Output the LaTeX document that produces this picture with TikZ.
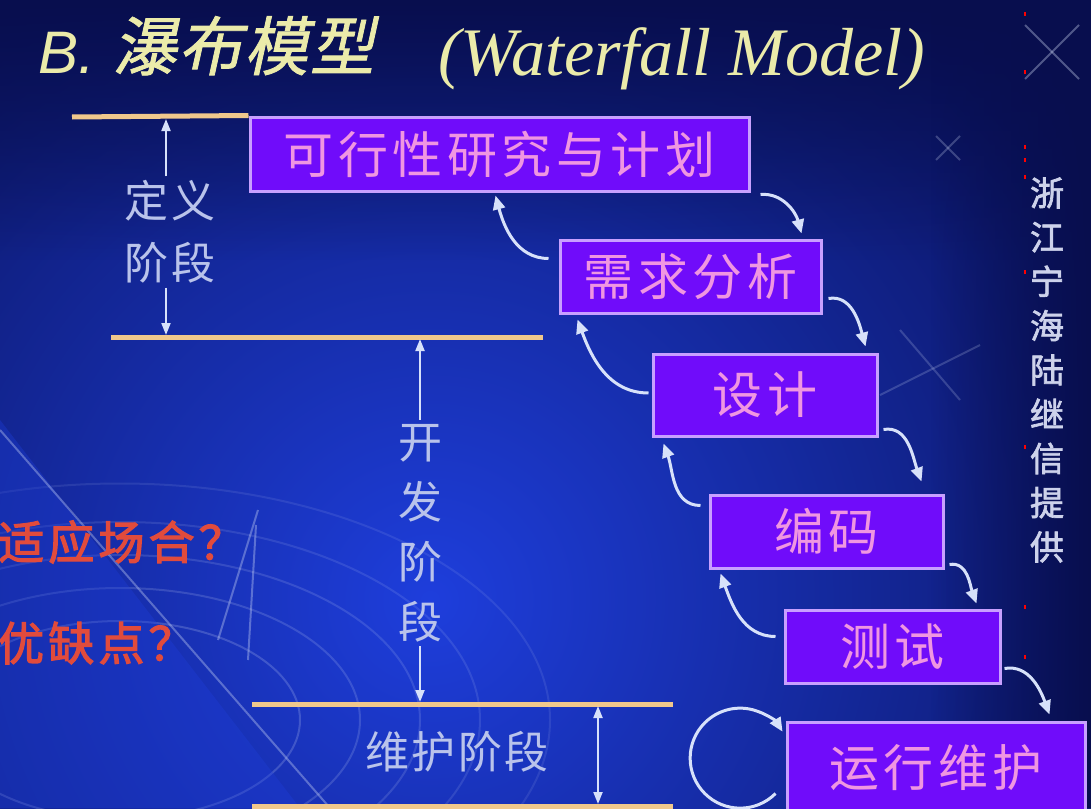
\documentclass[tikz,border=0pt]{standalone}
\usepackage{fontspec}
\setmainfont{Liberation Serif}
\newfontfamily\cjk{Noto Sans CJK SC}
\newfontfamily\cjkbox[LetterSpace=9]{Noto Sans CJK SC}
\newfontfamily\cjklab[LetterSpace=6]{Noto Sans CJK SC}
\newfontfamily\cjkslant[FakeSlant=0.22,FakeBold=1.2,LetterSpace=3]{Noto Sans CJK SC}
\newfontfamily\cjkbold[FakeBold=2.5,LetterSpace=9]{Noto Sans CJK SC}
\newfontfamily\cjkcred[FakeBold=2]{Noto Sans CJK SC}
\newfontfamily\sansfam{Liberation Sans}
\usetikzlibrary{arrows.meta,fadings}
\definecolor{bgdark}{RGB}{8,14,78}
\definecolor{bgmid}{RGB}{16,34,150}
\definecolor{bglight}{RGB}{30,62,220}
\definecolor{boxfill}{RGB}{112,12,250}
\definecolor{boxline}{RGB}{200,160,255}
\definecolor{boxtext}{RGB}{240,150,225}
\definecolor{phase}{RGB}{240,200,140}
\definecolor{arrowc}{RGB}{215,225,250}
\definecolor{labelc}{RGB}{185,195,235}
\definecolor{titlec}{RGB}{235,235,170}
\definecolor{redc}{RGB}{225,75,60}
\definecolor{creditc}{RGB}{205,210,235}
\tikzset{
  stepbox/.style={draw=boxline, line width=3pt, fill=boxfill, text=boxtext,
    font=\cjkbox\fontsize{50}{50}\selectfont, inner sep=0pt},
  phaseline/.style={draw=phase, line width=5pt},
  flow/.style={draw=arrowc, line width=3pt, -{Triangle[length=14pt,width=12pt]}},
  dimarrow/.style={draw=arrowc, line width=2pt, -{Triangle[length=12pt,width=9pt]}},
  dimboth/.style={draw=arrowc, line width=2pt, {Triangle[length=12pt,width=9pt]}-{Triangle[length=12pt,width=9pt]}},
  phaselabel/.style={text=labelc, font=\cjklab\fontsize{44}{62}\selectfont, align=center, inner sep=4pt},
  redq/.style={text=redc, font=\cjkbold\fontsize{46}{46}\selectfont, anchor=west, inner sep=0pt},
  deco/.style={draw=arrowc, opacity=0.35, line width=2pt},
}
\begin{document}
\begin{tikzpicture}[x=1pt,y=1pt]
\useasboundingbox (0,0) rectangle (1091,-808);
% ---------- background ----------
\begin{scope}
\clip (0,0) rectangle (1091,-808);
\fill[bgdark] (0,0) rectangle (1091,-808);
\shade[inner color=bglight, outer color=bgdark] (430,-600) circle (900);
\fill[bgdark, path fading=south] (0,0) rectangle (1091,-260);
\fill[bgdark, path fading=west] (930,0) rectangle (1091,-808);
% swirl arcs (lower left)
\foreach \r/\o in {180/0.2,240/0.17,300/0.15,360/0.12,430/0.1}{
  \draw[arrowc, opacity=\o, line width=2pt] (120,-720) ellipse[x radius=\r, y radius=0.55*\r];
}
\fill[bglight, opacity=0.35] (0,-420) -- (300,-808) -- (0,-808) -- cycle;
\draw[deco] (0,-430) -- (330,-808);
\draw[deco] (258,-510) -- (218,-640);
\draw[deco] (256,-525) -- (248,-660);
% sparkles
\draw[deco] (1025,-25) -- (1079,-79);
\draw[deco] (1079,-25) -- (1025,-79);
\draw[deco, opacity=0.25] (936,-136) -- (960,-160);
\draw[deco, opacity=0.25] (960,-136) -- (936,-160);
\draw[deco, opacity=0.25] (725,-130) -- (745,-150);
\draw[deco, opacity=0.25] (745,-130) -- (725,-150);
\draw[deco, opacity=0.2] (900,-330) -- (960,-400);
\draw[deco, opacity=0.2] (880,-395) -- (980,-345);
% tiny red marks
\foreach \yy in {12,70,145,158,175,270,445,605,655}{
  \fill[red] (1024,-\yy) rectangle (1026,-\yy-4);
}
\end{scope}
% ---------- title ----------
\node[anchor=base west, text=titlec, inner sep=0pt, font=\sansfam\itshape\fontsize{60}{60}\selectfont] (tb) at (38,-74) {B.};
\node[anchor=base west, text=titlec, inner sep=0pt, font=\cjkslant\fontsize{64}{64}\selectfont] (tc) at (112,-70) {瀑布模型};
\node[anchor=base west, text=titlec, inner sep=0pt, font=\itshape\fontsize{68}{68}\selectfont] (te) at (438,-75) {(Waterfall Model)};
% ---------- steps ----------
\node[stepbox, minimum width=499pt, minimum height=74pt] (b1) at (499.5,-154) {可行性研究与计划};
\node[stepbox, minimum width=261pt, minimum height=73pt] (b2) at (690.5,-276.5) {需求分析};
\node[stepbox, minimum width=224pt, minimum height=82pt] (b3) at (765,-395) {设计};
\node[stepbox, minimum width=233pt, minimum height=73pt] (b4) at (826.5,-531.5) {编码};
\node[stepbox, minimum width=215pt, minimum height=73pt] (b5) at (892.5,-646.5) {测试};
\node[stepbox, minimum width=298pt, minimum height=92pt] (b6) at (936,-768) {运行维护};
% forward flows
\draw[flow] ([shift={(10,-2)}]b1.south east) to[out=5,in=105] ([shift={(-21,5)}]b2.north east);
\draw[flow] ([shift={(6,16)}]b2.south east) to[out=10,in=105] ([shift={(-13,6)}]b3.north east);
\draw[flow] ([shift={(5,8)}]b3.south east) to[out=10,in=110] ([shift={(-23,12)}]b4.north east);
\draw[flow] ([shift={(5,5)}]b4.south east) to[out=10,in=110] ([shift={(-25,5)}]b5.north east);
\draw[flow] ([shift={(3,16)}]b5.south east) to[out=10,in=110] ([shift={(-37,6)}]b6.north east);
% backward flows
\draw[flow] ([shift={(-10,-20)}]b2.north west) to[out=180,in=-75] ([shift={(-4,-3)}]b1.south);
\draw[flow] ([shift={(-3,2)}]b3.west) to[out=180,in=-70] ([shift={(19,-5)}]b2.south west);
\draw[flow] ([shift={(-8,-12)}]b4.north west) to[out=180,in=-70] ([shift={(12,-6)}]b3.south west);
\draw[flow] ([shift={(-8,-28)}]b5.north west) to[out=180,in=-70] ([shift={(12,-4)}]b4.south west);
% maintenance loop
\draw[flow] ([shift={(-10,-73)}]b6.north west) arc[start angle=-45, end angle=-328, radius=50];
% ---------- phase lines ----------
\coordinate (p1a) at (72,-117);
\coordinate (p2a) at (111,-337);
\coordinate (p2b) at (543,-337);
\coordinate (p3a) at (252,-704);
\coordinate (p3b) at (673,-704);
\coordinate (p4a) at (252,-806);
\coordinate (p4b) at (673,-806);
\draw[phaseline] (p1a) -- (b1.north west);
\draw[phaseline] (p2a) -- (p2b);
\draw[phaseline] (p3a) -- (p3b);
\draw[phaseline] (p4a) -- (p4b);
% ---------- phase labels and dimension arrows ----------
\node[phaselabel] (def) at (170,-232) {定义\\阶段};
\coordinate (d1t) at (166,-119);
\coordinate (d1b) at (166,-335);
\draw[dimarrow] ([xshift=-4pt]def.north) -- (d1t);
\draw[dimarrow] ([xshift=-4pt]def.south) -- (d1b);
\node[phaselabel, font=\cjk\fontsize{44}{60}\selectfont] (dev) at (420,-533) {开\\发\\阶\\段};
\coordinate (d2t) at (420,-339);
\coordinate (d2b) at (420,-702);
\draw[dimarrow] (dev.north) -- (d2t);
\draw[dimarrow] (dev.south) -- (d2b);
\node[phaselabel] (mnt) at (457,-752) {维护阶段};
\coordinate (d3t) at (598,-706);
\coordinate (d3b) at (598,-804);
\draw[dimboth] (d3t) -- (d3b);
% ---------- questions ----------
\node[redq] (q1) at (-2,-542) {适应场合？};
\node[redq] (q2) at (-2,-643) {优缺点？};
% ---------- credit ----------
\node[text=creditc, font=\cjkcred\fontsize{34}{44.25}\selectfont, align=center, inner sep=0pt] (cr) at (1047,-370) {浙\\江\\宁\\海\\陆\\继\\信\\提\\供};
\end{tikzpicture}
\end{document}
